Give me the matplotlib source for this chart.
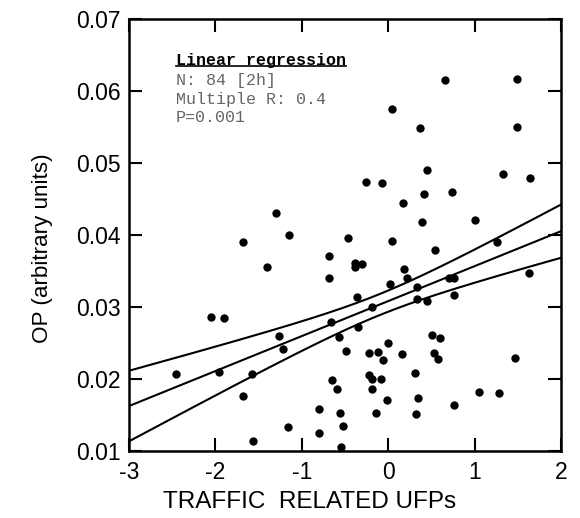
import numpy as np
import matplotlib
matplotlib.use("Agg")
import matplotlib.pyplot as plt
from matplotlib.lines import Line2D

# ─────────────────────────────────────────────────────────────────────────────
# Data
# ─────────────────────────────────────────────────────────────────────────────

ufp = [
    0.653, 1.489, 0.049, 0.372, 1.486, -1.301, -1.150, -1.679, -1.408, -0.684,
    -0.684, 0.449, -0.252, -0.067, 1.327, 1.636, 0.410, 0.734, 0.168, 0.391,
    1.000, -0.460, 0.040, 0.545, -0.384, -0.303, -0.384, 0.187, 0.217, 1.258,
    0.017, 0.333, 0.703, 0.757, -0.361, 0.333, 0.765, 1.628, -0.183, 0.449,
    -0.657, -0.349, -0.572, 0.511, 0.599, 0.002, -0.491, -0.217, -0.113, -0.064,
    0.156, 0.529, 0.580, 1.470, -0.645, -0.222, -0.183, -0.083, 0.306, -0.587,
    -0.183, 1.054, 1.277, -0.009, 0.341, 0.761, -0.557, -0.145, 0.321, -0.522,
    -0.549, -2.052, -1.902, -1.262, -1.223, -2.457, -1.963, -1.574, -1.679, -0.803,
    -1.158, -0.795, -1.563,
]
op = [
    0.0616, 0.0617, 0.0575, 0.0549, 0.0551, 0.0431, 0.0400, 0.0391, 0.0356, 0.0372,
    0.0341, 0.0491, 0.0474, 0.0473, 0.0486, 0.0480, 0.0457, 0.0461, 0.0445, 0.0419,
    0.0421, 0.0397, 0.0393, 0.0380, 0.0362, 0.0360, 0.0356, 0.0354, 0.0341, 0.0391,
    0.0333, 0.0328, 0.0341, 0.0341, 0.0315, 0.0312, 0.0318, 0.0348, 0.0301, 0.0309,
    0.0280, 0.0273, 0.0259, 0.0262, 0.0258, 0.0251, 0.0240, 0.0237, 0.0238, 0.0227,
    0.0235, 0.0237, 0.0228, 0.0230, 0.0199, 0.0206, 0.0201, 0.0201, 0.0209, 0.0187,
    0.0187, 0.0183, 0.0181, 0.0172, 0.0174, 0.0164, 0.0153, 0.0153, 0.0152, 0.0136,
    0.0106, 0.0287, 0.0285, 0.0261, 0.0242, 0.0208, 0.0211, 0.0208, 0.0177, 0.0159,
    0.0134, 0.0126, 0.0114,
]

stats_lines = ["N: 84 [2h]", "Multiple R: 0.4", "P=0.001"]
x_ticks = [-3, -2, -1, 0, 1, 2]
y_ticks = [0.01, 0.02, 0.03, 0.04, 0.05, 0.06, 0.07]
T_BAND = 1.15   # band multiplier, matched to the band width in the figure

# ─────────────────────────────────────────────────────────────────────────────
# Regression + confidence band of the mean
# ─────────────────────────────────────────────────────────────────────────────

x = np.asarray(ufp)
y = np.asarray(op)
n = len(x)
slope, icpt = np.polyfit(x, y, 1)
resid = y - (icpt + slope * x)
s = np.sqrt(np.sum(resid ** 2) / (n - 2))
sxx = np.sum((x - x.mean()) ** 2)

xg = np.linspace(x_ticks[0], x_ticks[-1], 200)
yg = icpt + slope * xg
hw = T_BAND * s * np.sqrt(1.0 / n + (xg - x.mean()) ** 2 / sxx)

# ─────────────────────────────────────────────────────────────────────────────
# Figure
# ─────────────────────────────────────────────────────────────────────────────

plt.rcParams["font.family"] = ["Liberation Sans", "DejaVu Sans"]

fig = plt.figure(figsize=(5.8, 5.18), dpi=100)
ax = fig.add_axes([0.2224, 0.1284, 0.7448, 0.834])

ax.plot(x, y, "o", color="black", ms=6, mew=0, zorder=3)
for yy in (yg + hw, yg, yg - hw):
    ax.plot(xg, yy, color="black", lw=1.5, zorder=2)

ax.set_xlim(x_ticks[0], x_ticks[-1])
ax.set_ylim(y_ticks[0], y_ticks[-1])
ax.set_xticks(x_ticks)
ax.set_yticks(y_ticks)
ax.set_xticklabels([str(v) for v in x_ticks])
ax.set_yticklabels([f"{v:.2f}" for v in y_ticks])
ax.tick_params(direction="in", length=9.5, width=1.5, labelsize=16.5,
               top=True, right=True, labeltop=False, labelright=False)
ax.tick_params(axis="x", pad=7)
ax.tick_params(axis="y", pad=6)
for sp in ax.spines.values():
    sp.set_linewidth(1.8)

ax.set_xlabel("TRAFFIC  RELATED UFPs", fontsize=17.5)
ax.set_ylabel("OP (arbitrary units)", fontsize=16.2)
ax.xaxis.set_label_coords(0.419, -0.092)
ax.yaxis.set_label_coords(-0.175, 0.471)

# statistics box text (monospace, title underlined)
mono = ["Liberation Mono", "DejaVu Sans Mono"]
title = ax.text(0.109, 0.8947, "Linear regression", transform=ax.transAxes,
                family=mono, fontsize=12, fontweight="bold", va="baseline")
for i, line in enumerate(stats_lines):
    ax.text(0.109, 0.8484 - i * 0.043, line, transform=ax.transAxes,
            family=mono, fontsize=12, color="#666666", va="baseline")

fig.canvas.draw()
bb = title.get_window_extent().transformed(fig.transFigure.inverted())
uy = bb.y0 + 0.1 * (bb.y1 - bb.y0)
fig.add_artist(Line2D([bb.x0, bb.x1], [uy, uy], transform=fig.transFigure,
                      color="black", lw=1.2))

fig.savefig("out.png", dpi=100)
